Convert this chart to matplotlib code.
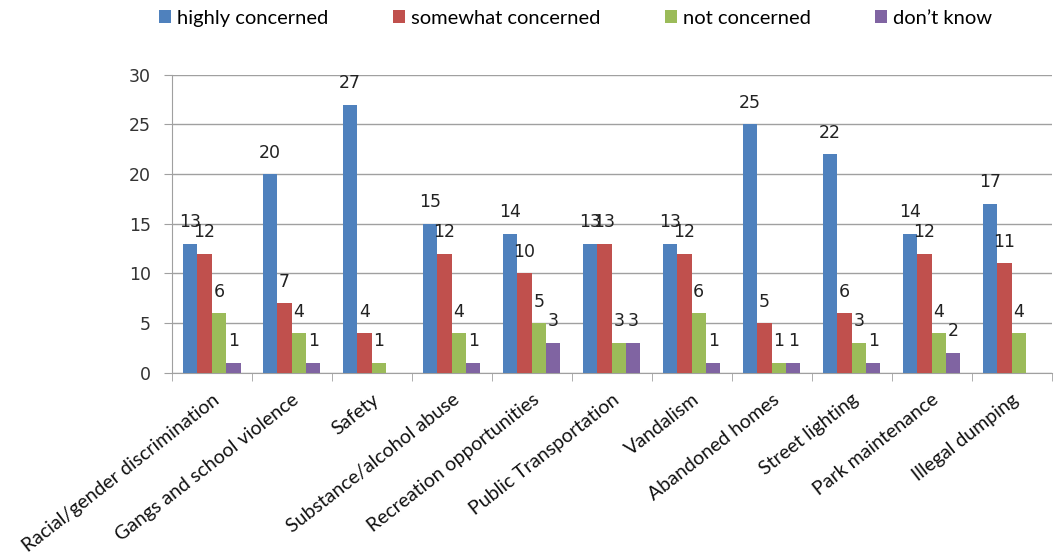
import numpy as np
import matplotlib
matplotlib.use("Agg")
import matplotlib.pyplot as plt

categories = ["Racial/gender discrimination", "Gangs and school violence", "Safety",
              "Substance/alcohol abuse", "Recreation opportunities", "Public Transportation",
              "Vandalism", "Abandoned homes", "Street lighting", "Park maintenance",
              "Illegal dumping"]
highly = [13, 20, 27, 15, 14, 13, 13, 25, 22, 14, 17]
somewhat = [12, 7, 4, 12, 10, 13, 12, 5, 6, 12, 11]
not_conc = [6, 4, 1, 4, 5, 3, 6, 1, 3, 4, 4]
dont_know = [1, 1, 0, 1, 3, 3, 1, 1, 1, 2, 0]

series = [("highly concerned", highly, "#4F81BD"),
          ("somewhat concerned", somewhat, "#C0504D"),
          ("not concerned", not_conc, "#9BBB59"),
          ("don\u2019t know", dont_know, "#8064A2")]

fig = plt.figure(figsize=(10.6, 5.58), dpi=100)
ax = fig.add_axes([0.162, 0.332, 0.83, 0.534])

x = np.arange(len(categories))
w = 0.18
for i, (name, vals, col) in enumerate(series):
    pos = x + (i - 1.5) * w
    ax.bar(pos, vals, w, color=col, label=name, zorder=3)
    for px, v in zip(pos, vals):
        if v > 0:
            ax.annotate(str(v), (px, v), xytext=(0, 9), textcoords="offset points",
                        ha="center", va="bottom", fontsize=12.5, color="#222222",
                        family="DejaVu Sans", zorder=4)

ax.set_xlim(-0.5, len(categories) - 0.5)
ax.set_ylim(0, 30)
ax.set_yticks(range(0, 31, 5))
ax.yaxis.grid(True, color="#A0A0A0", linewidth=1, zorder=0)
for s in ["top", "right"]:
    ax.spines[s].set_visible(False)
ax.spines["left"].set_color("#A0A0A0")
ax.spines["bottom"].set_color("#A0A0A0")
ax.tick_params(axis="y", length=6, color="#A0A0A0", labelsize=12.5, labelcolor="#333333", pad=9)
ax.tick_params(axis="x", which="major", length=0)
ax.set_xticks(x)
ax.set_xticklabels(categories, rotation=38, ha="right", rotation_mode="anchor",
                   fontsize=14, family="Lato", color="#111111")
ax.tick_params(axis="x", pad=13)
ax.set_xticks(np.arange(-0.5, len(categories), 1), minor=True)
ax.tick_params(axis="x", which="minor", length=6, color="#A0A0A0", direction="out")

leg = fig.legend(loc="upper center", bbox_to_anchor=(0.543, 1.015), ncol=4, frameon=False,
                 prop={"family": "Lato", "size": 14.5}, handlelength=0.6, handleheight=0.6,
                 handletextpad=0.3, columnspacing=3.2)

fig.savefig("out.png", dpi=100)
